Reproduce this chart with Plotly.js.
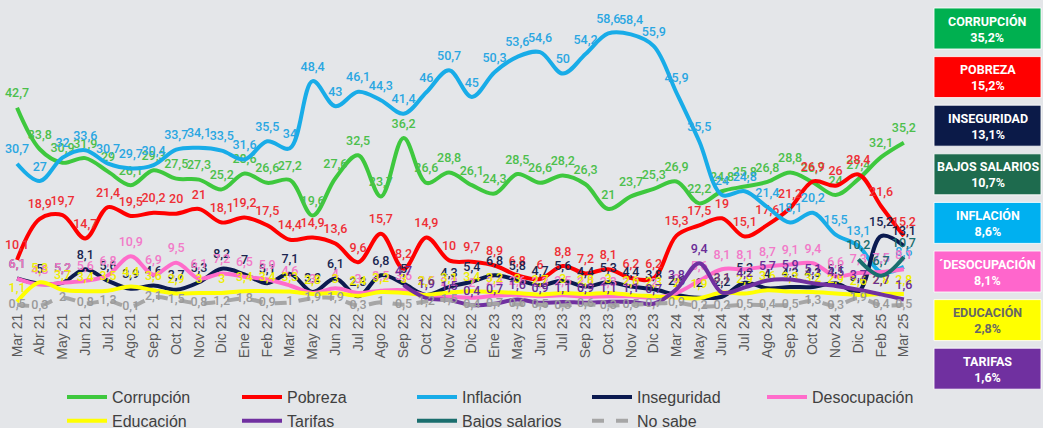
<!DOCTYPE html>
<html><head><meta charset="utf-8">
<script src="https://cdn.plot.ly/plotly-3.0.1.min.js"></script>
<style>html,body{margin:0;padding:0;background:#e4e6e9;}#chart{width:1043px;height:428px;}</style>
</head><body><div id="chart"></div>
<script>
const months = ["Mar 21","Abr 21","May 21","Jun 21","Jul 21","Ago 21","Sep 21","Oct 21","Nov 21","Dic 21","Ene 22","Feb 22","Mar 22","May 22","Jun 22","Jul 22","Ago 22","Sep 22","Oct 22","Nov 22","Dic 22","Ene 23","May 23","Jun 23","Jul 23","Sep 23","Oct 23","Nov 23","Dic 23","Mar 24","May 24","Jun 24","Jul 24","Ago 24","Sep 24","Oct 24","Nov 24","Dic 24","Feb 25","Mar 25"];

const corrupcion = [42.7,33.8,30.9,31.9,29,26.1,29.3,27.5,27.3,25.2,28.6,26.6,27.2,19.6,27.6,32.5,23.7,36.2,26.6,28.8,26.1,24.3,28.5,26.6,28.2,26.3,21,23.7,25.3,26.9,22.2,24.8,25.8,26.8,28.8,26.7,24.0,27.4,32.1,35.2];
const pobreza = [10.1,18.9,19.7,14.7,21.4,19.5,20.2,20,21,18.1,19.2,17.5,14.4,14.9,13.6,9.6,15.7,8.2,14.9,10,9.7,8.9,6.8,6,8.8,7.2,8.1,6.2,6.2,15.3,17.5,19,15.1,17.6,21.2,26.9,26.0,28.4,21.6,15.2];
const inflacion = [30.7,27,32.0,33.6,30.7,29.7,30.4,33.7,34.1,33.5,31.6,35.5,34.0,48.4,43,46.1,44.3,41.4,46,50.7,45,50.3,53.6,54.6,50,54.2,58.6,58.4,55.9,45.9,35.5,24,24.8,21.4,18.1,20.2,15.5,13.1,7.5,8.6];
const inseguridad = [6.1,5.0,5.2,8.1,5.6,3.9,4.6,3.7,5.3,8.2,7,5.1,7.1,3.2,6.1,2.3,6.8,5.0,2.6,4.3,5.4,6.8,5.8,4.7,5.6,4.4,5.3,4.4,3.8,2.6,2.0,2.2,5.2,4.0,4.3,4.3,5.1,3.3,15.2,13.1];
const desocupacion = [6.1,4.8,5.2,5.6,6.8,10.9,6.9,9.5,6.1,7.2,6.5,5.9,4.6,3.0,4.0,3.0,3.5,3.6,2.5,2.2,2.0,2.4,2.6,2.3,2.5,2.2,2.3,2.3,2.0,3.0,5.6,8.1,8.1,8.7,9.1,9.4,6.6,7.3,7.5,8.1];
const educacion = [1.1,5.3,3.7,3.4,3.5,4.4,3.6,2.9,3.0,3.0,3.4,3.4,3.3,2.8,3.0,2.4,3.2,3.0,2.6,3.1,3.4,3.2,3.0,2.7,3.0,2.8,3.0,2.6,2.3,2.0,1.9,3.1,2.9,3.6,3.3,3.2,2.9,2.6,2.8,2.8];
const tarifas = [null,null,null,null,null,null,null,null,null,null,null,null,null,null,null,null,null,4.7,1.9,1.5,0.4,0.7,1.6,0.9,1.1,0.9,1.1,1.1,0.7,3.8,9.4,3.1,4.2,5.7,5.9,5.1,4.5,3.7,2.7,1.6];
const bajosSalarios = [null,null,null,null,null,null,null,null,null,null,null,null,null,null,null,null,null,null,null,null,null,null,null,null,null,null,null,null,null,null,null,null,null,null,null,null,null,10.2,6.7,10.7];
const noSabe = [0.5,0.3,2,0.8,1.3,0.1,2.1,1.5,0.8,1.2,1.8,0.9,1,1.9,1.9,0.3,1,0.5,1.2,1.5,0.4,0.7,0.6,0.5,0.3,0.6,0.3,0.5,0.7,0.9,0.2,0.2,0.5,0.4,0.5,1.3,0.3,1.9,0.4,0.5];

const seriesNames = ["Corrupción","Pobreza","Inflación","Inseguridad","Desocupación","Educación","Tarifas","Bajos salarios","No sabe"];
const seriesValues = [corrupcion,pobreza,inflacion,inseguridad,desocupacion,educacion,tarifas,bajosSalarios,noSabe];
const seriesColors = ["#3ec83e","#ff0000","#18ace8","#0b1a50","#ff6ccb","#ffff00","#7030a0","#1a6e6e","#a6a6a6"];
const labelColors = ["#4cbf4c","#ee2f36","#2aa6e2","#1a2550","#f27ac8","#eeee00","#6a2c96","#1a6e6e","#9a9a9a"];

const panelNames = ["CORRUPCIÓN","POBREZA","INSEGURIDAD","BAJOS SALARIOS","INFLACIÓN","´DESOCUPACIÓN","EDUCACIÓN","TARIFAS"];
const panelValues = [35.2,15.2,13.1,10.7,8.6,8.1,2.8,1.6];
const panelColors = ["#00b050","#ff0000","#0b1a48","#1e6b4e","#00b0f0","#ff66cc","#ffff00","#7030a0"];
const panelTextColors = ["#ffffff","#ffffff","#ffffff","#ffffff","#ffffff","#ffffff","#666666","#ffffff"];

function fmt(v){ return v==null ? '' : String(v).replace('.', ','); }

const W = 1043, H = 428, L = 0, R = 123, T = 5, B = 118;
const PW = W - L - R, PH = H - T - B;
const px = x => (x - L) / PW;
const py = y => (H - B - y) / PH;

const labelFont = "Roboto, Liberation Sans, sans-serif";

const traces = seriesNames.map((name, i) => ({
  type: 'scatter',
  mode: 'lines+markers+text',
  name: name,
  x: months,
  y: seriesValues[i],
  text: seriesValues[i].map(fmt),
  textposition: i === 8 ? 'middle center' : 'top center',
  textfont: {family: labelFont, size: 12.5, color: labelColors[i], weight: 500},
  marker: {size: 10, color: 'rgba(0,0,0,0)', line: {width: 0}},
  cliponaxis: false,
  line: {color: seriesColors[i], width: 4, shape: 'spline', smoothing: 1, dash: i === 8 ? 'dash' : 'solid'},
  hoverinfo: 'skip'
}));

const shapes = [];
const annotations = [];
panelNames.forEach((n, i) => {
  const top = 8 + i * 48.6, bot = top + 41;
  shapes.push({type: 'rect', xref: 'paper', yref: 'paper', x0: px(934), x1: px(1041), y0: py(bot), y1: py(top),
    fillcolor: panelColors[i], line: {color: 'rgba(255,255,255,0.85)', width: 1}, layer: 'above'});
  annotations.push({xref: 'paper', yref: 'paper', x: px(987.5), y: py(top + 21), xanchor: 'center', yanchor: 'middle',
    text: '<b>' + n + '</b><br><b>' + fmt(panelValues[i]) + '%</b>', showarrow: false, align: 'center',
    font: {family: 'Roboto, Liberation Sans, sans-serif', size: 12.5, color: panelTextColors[i]}});
});

const layout = {
  width: W, height: H,
  margin: {l: L, r: R, t: T, b: B, pad: 0, autoexpand: false},
  paper_bgcolor: '#e4e6e9', plot_bgcolor: '#e4e6e9',
  showlegend: true,
  xaxis: {type: 'category', range: [-0.75, 39.71], showgrid: false, zeroline: false, showline: false, automargin: false,
    tickangle: -90, tickfont: {family: 'Liberation Sans, Arial, sans-serif', size: 14, color: '#595959'}, ticks: '', fixedrange: true},
  yaxis: {range: [-0.64, 64.7], visible: false, showgrid: false, zeroline: false, fixedrange: true},
  legend: {orientation: 'h', x: px(62), xanchor: 'left', y: py(380), yanchor: 'top',
    font: {family: 'Liberation Sans, Arial, sans-serif', size: 16, color: '#404040'},
    entrywidth: 120, entrywidthmode: 'pixels', itemwidth: 40, bgcolor: 'rgba(0,0,0,0)', traceorder: 'normal'},
  shapes: shapes,
  annotations: annotations
};

Plotly.newPlot('chart', traces, layout, {displayModeBar: false, staticPlot: true});
</script>
</body></html>
